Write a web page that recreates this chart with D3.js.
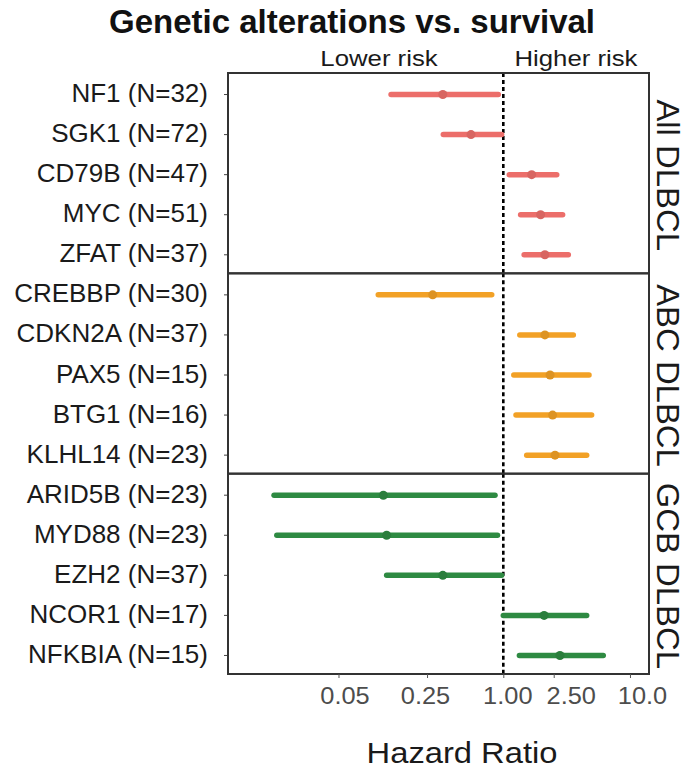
<!DOCTYPE html>
<html>
<head>
<meta charset="utf-8">
<script src="https://cdn.jsdelivr.net/npm/d3@7"></script>
<style>
  html, body { margin: 0; padding: 0; background: #fff; }
  svg text { font-family: "Liberation Sans", Arial, Helvetica, sans-serif; }
</style>
</head>
<body>
<svg id="chart" width="684" height="774"></svg>
<script>
// ---- data ----
const groups = ["All DLBCL", "ABC DLBCL", "GCB DLBCL"];
const genes = ["NF1", "SGK1", "CD79B", "MYC", "ZFAT",
               "CREBBP", "CDKN2A", "PAX5", "BTG1", "KLHL14",
               "ARID5B", "MYD88", "EZH2", "NCOR1", "NFKBIA"];
const nCounts = [32, 72, 47, 51, 37,
                 30, 37, 15, 16, 23,
                 23, 23, 37, 17, 15];
const geneGroup = ["All DLBCL","All DLBCL","All DLBCL","All DLBCL","All DLBCL",
                   "ABC DLBCL","ABC DLBCL","ABC DLBCL","ABC DLBCL","ABC DLBCL",
                   "GCB DLBCL","GCB DLBCL","GCB DLBCL","GCB DLBCL","GCB DLBCL"];
const hazard = [0.333, 0.556, 1.675, 1.97, 2.13,
                0.277, 2.13, 2.34, 2.45, 2.56,
                0.113, 0.120, 0.333, 2.10, 2.80];
const ciLow  = [0.130, 0.336, 1.115, 1.37, 1.46,
                0.103, 1.35, 1.21, 1.26, 1.53,
                0.0155, 0.0163, 0.120, 1.00, 1.34];
const ciHigh = [0.913, 0.97, 2.64, 2.94, 3.26,
                0.81, 3.57, 4.75, 4.98, 4.55,
                0.86, 0.90, 0.97, 4.55, 6.15];
const xTicks = [0.05, 0.25, 1, 2.5, 10];
const xTickLabels = ["0.05", "0.25", "1.00", "2.50", "10.0"];
const xDomain = [0.00671, 14.13];
const groupColors = ["#EC6E6A", "#F2A126", "#2E8A42"];

// ---- layout / style constants ----
const tickLabelNudge = [6, -2, 4, 17, 12];   // horizontal label offsets as in the reference
const svg = d3.select("#chart");
const plotLeft = 228, plotRight = 649, plotTop = 73, plotBottom = 674;
const panelH = (plotBottom - plotTop) / groups.length;

const x = d3.scaleLog().domain(xDomain).range([plotLeft, plotRight]);
const color = d3.scaleOrdinal().domain(groups).range(groupColors);
const panelY = d3.scaleBand().domain(groups).range([plotTop, plotBottom]).padding(0);

function stretch(sel, k) {
  sel.each(function() {
    const w = this.getComputedTextLength();
    d3.select(this).attr("textLength", w * k).attr("lengthAdjust", "spacingAndGlyphs");
  });
}

const rows = genes.map((g, i) => ({
  gene: g, n: nCounts[i], group: geneGroup[i],
  hr: hazard[i], lo: ciLow[i], hi: ciHigh[i]
}));

groups.forEach((grp) => {
  const y0 = panelY(grp);
  const sub = rows.filter(r => r.group === grp);
  const y = d3.scaleBand().domain(sub.map(r => r.gene)).range([y0, y0 + panelH]).padding(0);
  const g = svg.append("g");

  // y axis (labels + ticks)
  const yAxis = d3.axisLeft(y)
    .tickSize(4).tickPadding(16)
    .tickFormat(d => { const r = sub.find(s => s.gene === d); return `${d} (N=${r.n})`; });
  const ya = g.append("g").attr("transform", `translate(${plotLeft},${1.5})`).call(yAxis);
  ya.select(".domain").remove();
  ya.selectAll(".tick line").attr("stroke", "#444").attr("stroke-width", 1);
  ya.selectAll(".tick text")
    .attr("fill", "#1a1a1a").attr("font-size", 26).attr("dy", "0.29em");

  // reference line x = 1
  g.append("line")
    .attr("x1", x(1)).attr("x2", x(1))
    .attr("y1", y0).attr("y2", y0 + panelH)
    .attr("stroke", "#000").attr("stroke-width", 2.6)
    .attr("stroke-dasharray", "4,3");

  // intervals
  g.selectAll("line.ci").data(sub).join("line")
    .attr("class", "ci")
    .attr("x1", d => x(d.lo)).attr("x2", d => x(d.hi))
    .attr("y1", d => y(d.gene) + y.bandwidth() / 2 + 1.5)
    .attr("y2", d => y(d.gene) + y.bandwidth() / 2 + 1.5)
    .attr("stroke", color(grp)).attr("stroke-width", 5.5)
    .attr("stroke-linecap", "round");

  // points
  g.selectAll("circle.pt").data(sub).join("circle")
    .attr("class", "pt")
    .attr("cx", d => x(d.hr))
    .attr("cy", d => y(d.gene) + y.bandwidth() / 2 + 1.5)
    .attr("r", 4.5)
    .attr("fill", d3.color(color(grp)).darker(0.25));

  // panel border
  g.append("rect")
    .attr("x", plotLeft).attr("y", y0).attr("width", plotRight - plotLeft).attr("height", panelH)
    .attr("fill", "none").attr("stroke", "#333").attr("stroke-width", 2);

  // strip label (rotated)
  g.append("text")
    .attr("transform", `translate(657,${y0 + panelH / 2 + 2}) rotate(90)`)
    .attr("text-anchor", "middle")
    .attr("font-size", 31).attr("fill", "#1a1a1a")
    .text(grp)
    .call(stretch, 1.06);
});

// x axis
const xAxis = d3.axisBottom(x).tickValues(xTicks)
  .tickFormat((d, i) => xTickLabels[i]).tickSize(4).tickPadding(9);
const xa = svg.append("g").attr("transform", `translate(0,${plotBottom})`).call(xAxis);
xa.select(".domain").remove();
xa.selectAll(".tick line").attr("stroke", "#555");
xa.selectAll(".tick text").attr("font-size", 23.5).attr("fill", "#4d4d4d")
  .attr("dx", (d, i) => tickLabelNudge[i])
  .call(stretch, 1.08);

// axis title
svg.append("text").attr("x", 462).attr("y", 763).attr("text-anchor", "middle")
  .attr("font-size", 30).attr("fill", "#1a1a1a").text("Hazard Ratio")
  .call(stretch, 1.09);

// risk labels
svg.append("text").attr("x", 379).attr("y", 66).attr("text-anchor", "middle")
  .attr("font-size", 22).attr("fill", "#1a1a1a").text("Lower risk")
  .call(stretch, 1.17);
svg.append("text").attr("x", 576).attr("y", 66).attr("text-anchor", "middle")
  .attr("font-size", 22).attr("fill", "#1a1a1a").text("Higher risk")
  .call(stretch, 1.17);

// title
svg.append("text").attr("x", 352).attr("y", 33).attr("text-anchor", "middle")
  .attr("font-size", 33).attr("font-weight", "bold").attr("fill", "#111")
  .text("Genetic alterations vs. survival");
</script>
</body>
</html>
